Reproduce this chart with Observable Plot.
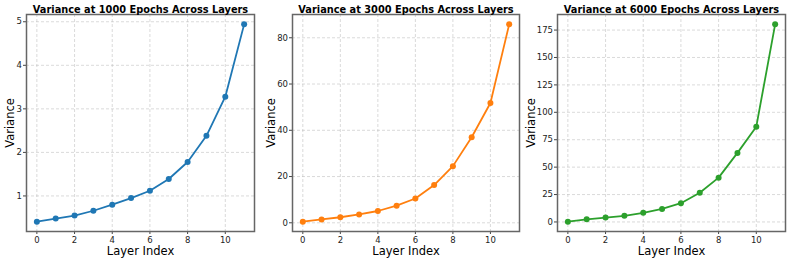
<!DOCTYPE html>
<html>
<head>
<meta charset="utf-8">
<script src="https://cdn.jsdelivr.net/npm/d3@7"></script>
<script src="https://cdn.jsdelivr.net/npm/@observablehq/plot@0.6"></script>
<style>
  html, body { margin: 0; padding: 0; background: #fff; }
  #chart { position: relative; width: 789px; height: 260px; overflow: hidden; }
  #chart svg { position: absolute; top: 0; }
</style>
</head>
<body>
<div id="chart"></div>
<script>
const layers = [0, 1, 2, 3, 4, 5, 6, 7, 8, 9, 10, 11];
const var1000 = [0.41, 0.48, 0.55, 0.66, 0.80, 0.95, 1.12, 1.39, 1.78, 2.38, 3.28, 4.94];
const var3000 = [0.5, 1.45, 2.4, 3.6, 5.1, 7.4, 10.5, 16.3, 24.5, 37.0, 51.8, 85.8];
const var6000 = [0.3, 2.4, 4.0, 5.6, 8.3, 11.9, 17.1, 26.6, 40.4, 63.0, 86.9, 180.2];
const titles = [
  "Variance at 1000 Epochs Across Layers",
  "Variance at 3000 Epochs Across Layers",
  "Variance at 6000 Epochs Across Layers"
];
const colors = ["#1f77b4", "#ff7f0e", "#2ca02c"];
const xTicks = [0, 2, 4, 6, 8, 10];
const yTicks1 = [1, 2, 3, 4, 5];
const yTicks2 = [0, 20, 40, 60, 80];
const yTicks3 = [0, 25, 50, 75, 100, 125, 150, 175];
const xLabel = "Layer Index";
const yLabel = "Variance";

const panels = [
  {values: var1000, yTicks: yTicks1, left: 0, ml: 26, mr: 9, lx: 9.5},
  {values: var3000, yTicks: yTicks2, left: 263, ml: 29, mr: 7, lx: 8},
  {values: var6000, yTicks: yTicks3, left: 526, ml: 31, mr: 4, lx: 4.5}
];

function padded(ext) {
  const r = ext[1] - ext[0];
  return [ext[0] - 0.05 * r, ext[1] + 0.05 * r];
}

const container = document.getElementById("chart");
panels.forEach((p, i) => {
  const data = layers.map((l, j) => ({layer: l, variance: p.values[j]}));
  const gridStyle = {stroke: "#b0b0b0", strokeOpacity: 0.6, strokeDasharray: "3,2", strokeWidth: 0.8};
  const svg = Plot.plot({
    width: 263,
    height: 260,
    marginTop: 14,
    marginBottom: 29,
    marginLeft: p.ml,
    marginRight: p.mr,
    style: {fontFamily: "DejaVu Sans", fontSize: "8.5px", color: "#222", background: "transparent", overflow: "visible"},
    x: {domain: padded(d3.extent(layers))},
    y: {domain: padded(d3.extent(p.values))},
    marks: [
      Plot.gridX(xTicks, gridStyle),
      Plot.gridY(p.yTicks, gridStyle),
      Plot.axisX(xTicks, {tickSize: 3, tickPadding: 2, label: null, fontSize: 8.5, stroke: "#444"}),
      Plot.axisY(p.yTicks, {tickSize: 3, tickPadding: 1.5, label: null, fontSize: 8.5, stroke: "#444"}),
      Plot.line(data, {x: "layer", y: "variance", stroke: colors[i], strokeWidth: 1.8}),
      Plot.dot(data, {x: "layer", y: "variance", fill: colors[i], r: 3}),
      Plot.frame({stroke: "#666", strokeWidth: 1.5}),
      Plot.text([titles[i]], {frameAnchor: "top", dy: -2, lineAnchor: "bottom", fontWeight: "bold", fontSize: 9.8, fill: "#000"}),
      Plot.text([xLabel], {frameAnchor: "bottom", dy: 15, lineAnchor: "top", fontSize: 11.5, fill: "#000"}),
      Plot.text([yLabel], {frameAnchor: "left", dx: -(p.ml - p.lx), textAnchor: "middle", lineAnchor: "middle", rotate: -90, fontSize: 11.5, fill: "#000"})
    ]
  });
  svg.style.left = p.left + "px";
  container.appendChild(svg);
});
</script>
</body>
</html>
